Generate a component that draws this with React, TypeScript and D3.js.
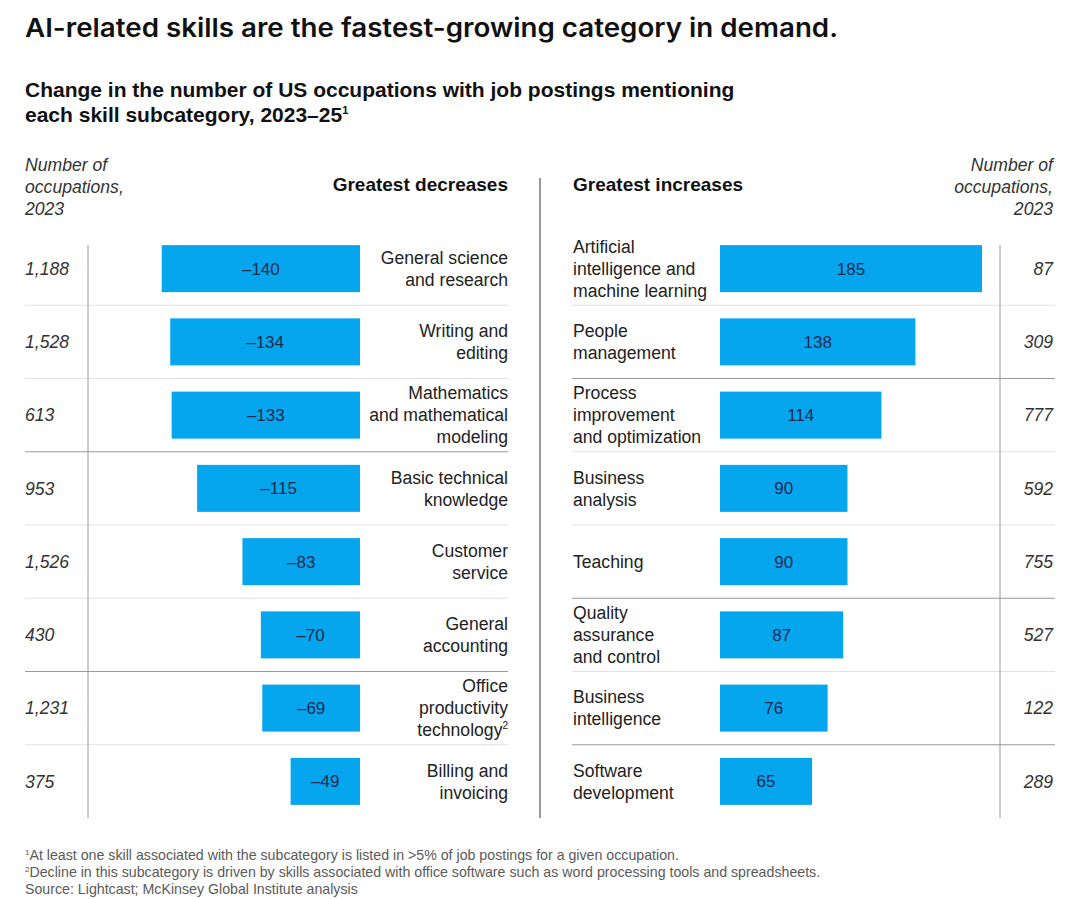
import * as React from 'react';
import * as d3 from 'd3';

// ---- data ----
const decreaseSkills = [
    ["General science", "and research"],
    ["Writing and", "editing"],
    ["Mathematics", "and mathematical", "modeling"],
    ["Basic technical", "knowledge"],
    ["Customer", "service"],
    ["General", "accounting"],
    ["Office", "productivity", "technology"],
    ["Billing and", "invoicing"],
];
const decreaseNotes = ["", "", "", "", "", "", "2", ""];
const decreaseValues = [-140, -134, -133, -115, -83, -70, -69, -49];
const decreaseOccupations = [1188, 1528, 613, 953, 1526, 430, 1231, 375];
const decreaseGroupBreaks = [2, 5];

const increaseSkills = [
    ["Artificial", "intelligence and", "machine learning"],
    ["People", "management"],
    ["Process", "improvement", "and optimization"],
    ["Business", "analysis"],
    ["Teaching"],
    ["Quality", "assurance", "and control"],
    ["Business", "intelligence"],
    ["Software", "development"],
];
const increaseValues = [185, 138, 114, 90, 90, 87, 76, 65];
const increaseOccupations = [87, 309, 777, 592, 755, 527, 122, 289];
const increaseGroupBreaks = [1, 4, 6];

const title = "AI-related skills are the fastest-growing category in demand.";
const subtitle = ["Change in the number of US occupations with job postings mentioning", "each skill subcategory, 2023\u201325"];
const occupationsHeader = ["Number of", "occupations,", "2023"];
const footnotes = [
    ["1", "At least one skill associated with the subcategory is listed in >5% of job postings for a given occupation."],
    ["2", "Decline in this subcategory is driven by skills associated with office software such as word processing tools and spreadsheets."],
    ["", "Source: Lightcast; McKinsey Global Institute analysis"],
];

const FONT = "'Liberation Sans', Arial, sans-serif";
const BAR = "#06a6ef";
const INK = "#222";
const FS = 17.6;

const App = () => {
    const width = 1080, height = 899;
    const rows = d3.range(decreaseValues.length);
    const y = d3.scaleBand<number>().domain(rows).range([232, 818]);
    const barH = 47;
    const len = d3.scaleLinear().domain([0, 185]).range([0, 262]);
    const fmt = d3.format(",");
    const leftZero = 360, rightZero = 720;
    const lineH = 22;

    const cy = (i: number) => y(i)! + y.bandwidth() / 2;
    const signed = (v: number) => (v < 0 ? "\u2013" + Math.abs(v) : String(v));

    const multiline = (lines: string[], x: number, c: number, anchor: string, note?: string) => {
        const top = c - ((lines.length - 1) * lineH) / 2;
        return lines.map((t, k) => (
            <text key={k} x={x} y={top + k * lineH} dy="0.35em" textAnchor={anchor}
                  fontSize={FS} fill={INK}>
                {t}
                {note && k === lines.length - 1 ? <tspan fontSize={10} dy="-7">{note}</tspan> : null}
            </text>
        ));
    };

    return (
        <svg width={width} height={height} style={{position: "absolute", left: 0, top: 0, background: "#fff"}}
             fontFamily={FONT}>
            <text x={25} y={37} fontSize={26} fontFamily="Inter, 'Liberation Sans', sans-serif" fontWeight={600}
                  fill="#111" textLength={813} lengthAdjust="spacingAndGlyphs">{title}</text>
            {subtitle.map((t, i) => (
                <text key={i} x={25} y={97 + i * 25} fontSize={21} fontWeight="bold" fill="#111">
                    {t}{i === 1 ? <tspan fontSize={11} dy="-8">1</tspan> : null}
                </text>
            ))}

            {/* column headers */}
            {occupationsHeader.map((t, i) => (
                <text key={"lh" + i} x={25} y={171 + i * 22} fontSize={FS} fontStyle="italic" fill="#333">{t}</text>
            ))}
            {occupationsHeader.map((t, i) => (
                <text key={"rh" + i} x={1053} y={171 + i * 22} fontSize={FS} fontStyle="italic" fill="#333"
                      textAnchor="end">{t}</text>
            ))}
            <text x={508} y={191} fontSize={19} fontWeight="bold" fill="#111" textAnchor="end">Greatest decreases</text>
            <text x={573} y={191} fontSize={19} fontWeight="bold" fill="#111">Greatest increases</text>

            {/* separators */}
            {rows.slice(1).map(i => (
                <line key={"ls" + i} x1={25} x2={508} y1={y(i)} y2={y(i)}
                      stroke={decreaseGroupBreaks.includes(i - 1) ? "#9a9a9a" : "#e2e2e2"} strokeWidth={1.2}/>
            ))}
            {rows.slice(1).map(i => (
                <line key={"rs" + i} x1={572} x2={1055} y1={y(i)} y2={y(i)}
                      stroke={increaseGroupBreaks.includes(i - 1) ? "#9a9a9a" : "#e2e2e2"} strokeWidth={1.2}/>
            ))}
            <line x1={88} x2={88} y1={245} y2={818} stroke="#9a9a9a" strokeWidth={1}/>
            <line x1={1000} x2={1000} y1={245} y2={818} stroke="#9a9a9a" strokeWidth={1}/>
            <line x1={540} x2={540} y1={178} y2={818} stroke="#777" strokeWidth={1.5}/>

            {/* decreases */}
            {rows.map(i => (
                <g key={"d" + i}>
                    <text x={25} y={cy(i)} dy="0.35em" fontSize={FS} fontStyle="italic" fill="#333">
                        {fmt(decreaseOccupations[i])}
                    </text>
                    <rect x={leftZero - len(Math.abs(decreaseValues[i]))} y={cy(i) - barH / 2}
                          width={len(Math.abs(decreaseValues[i]))} height={barH} fill={BAR}/>
                    <text x={leftZero - len(Math.abs(decreaseValues[i])) / 2} y={cy(i)} dy="0.35em"
                          textAnchor="middle" fontSize={17} fill="#1c2b4f">{signed(decreaseValues[i])}</text>
                    {multiline(decreaseSkills[i], 508, cy(i), "end", decreaseNotes[i])}
                </g>
            ))}

            {/* increases */}
            {rows.map(i => (
                <g key={"i" + i}>
                    {multiline(increaseSkills[i], 573, cy(i), "start")}
                    <rect x={rightZero} y={cy(i) - barH / 2} width={len(increaseValues[i])} height={barH} fill={BAR}/>
                    <text x={rightZero + len(increaseValues[i]) / 2} y={cy(i)} dy="0.35em"
                          textAnchor="middle" fontSize={17} fill="#1c2b4f">{signed(increaseValues[i])}</text>
                    <text x={1053} y={cy(i)} dy="0.35em" textAnchor="end" fontSize={FS} fontStyle="italic"
                          fill="#333">{fmt(increaseOccupations[i])}</text>
                </g>
            ))}

            {/* footnotes */}
            {footnotes.map(([n, t], i) => (
                <text key={"f" + i} x={25} y={860 + i * 17} fontSize={14.2} fill="#5a5a5a">
                    {n ? <tspan fontSize={8} dy="-5">{n}</tspan> : null}
                    <tspan dy={n ? 5 : 0}>{t}</tspan>
                </text>
            ))}
        </svg>
    );
};

export default App;
